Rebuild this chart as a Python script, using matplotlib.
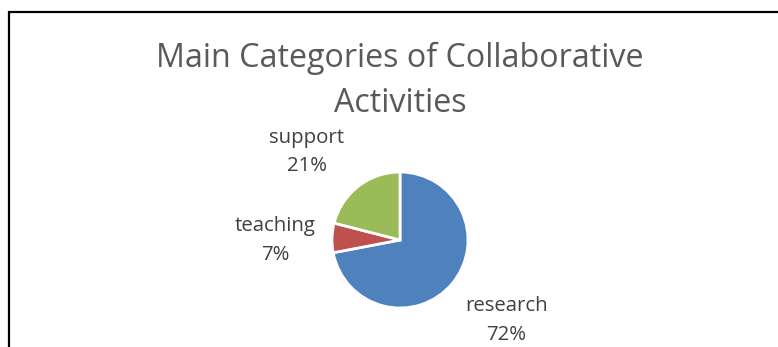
import matplotlib
matplotlib.use('Agg')
import matplotlib.pyplot as plt
from matplotlib.patches import Rectangle

# activity shares (percent)
categories = ['research', 'teaching', 'support']
shares = [72, 7, 21]
colors = ['#4F81BD', '#C0504D', '#9BBB59']

W, H = 778, 347
fig = plt.figure(figsize=(W / 100, H / 100), dpi=100)
plt.rcParams['font.family'] = ['Open Sans', 'DejaVu Sans']

# chart frame, open at the right and bottom
fig.patches.append(Rectangle((9 / W, -0.1), 1.1, 1.1 - 12 / H,
                             transform=fig.transFigure, fill=False,
                             edgecolor='#000000', linewidth=1.6))

fig.text(400 / W, 1 - 67 / H, 'Main Categories of Collaborative',
         ha='center', va='baseline', fontsize=23.2, color='#595959')
fig.text(400 / W, 1 - 112 / H, 'Activities',
         ha='center', va='baseline', fontsize=23.2, color='#595959')

cx, cy, r = 400, 240, 68
ax = fig.add_axes([(cx - r) / W, (H - cy - r) / H, 2 * r / W, 2 * r / H])
labels = ['%s\n%d%%' % (c, s) for c, s in zip(categories, shares)]
wedges, texts = ax.pie(shares, colors=colors, startangle=90, counterclock=False,
                       labels=labels,
                       wedgeprops=dict(edgecolor='white', linewidth=2),
                       textprops=dict(fontsize=14.7, color='#404040'))

# label centres in pie-radius units, best-fit style placement
label_pos = [(1.56, -1.18), (-1.84, -0.01), (-1.37, 1.295)]
for t, p in zip(texts, label_pos):
    t.set_position(p)
    t.set_ha('center')
    t.set_va('center')
    t.set_linespacing(1.58)
ax.set_xlim(-1, 1)
ax.set_ylim(-1, 1)
ax.set_aspect('equal')

fig.savefig('out.png', dpi=100)
